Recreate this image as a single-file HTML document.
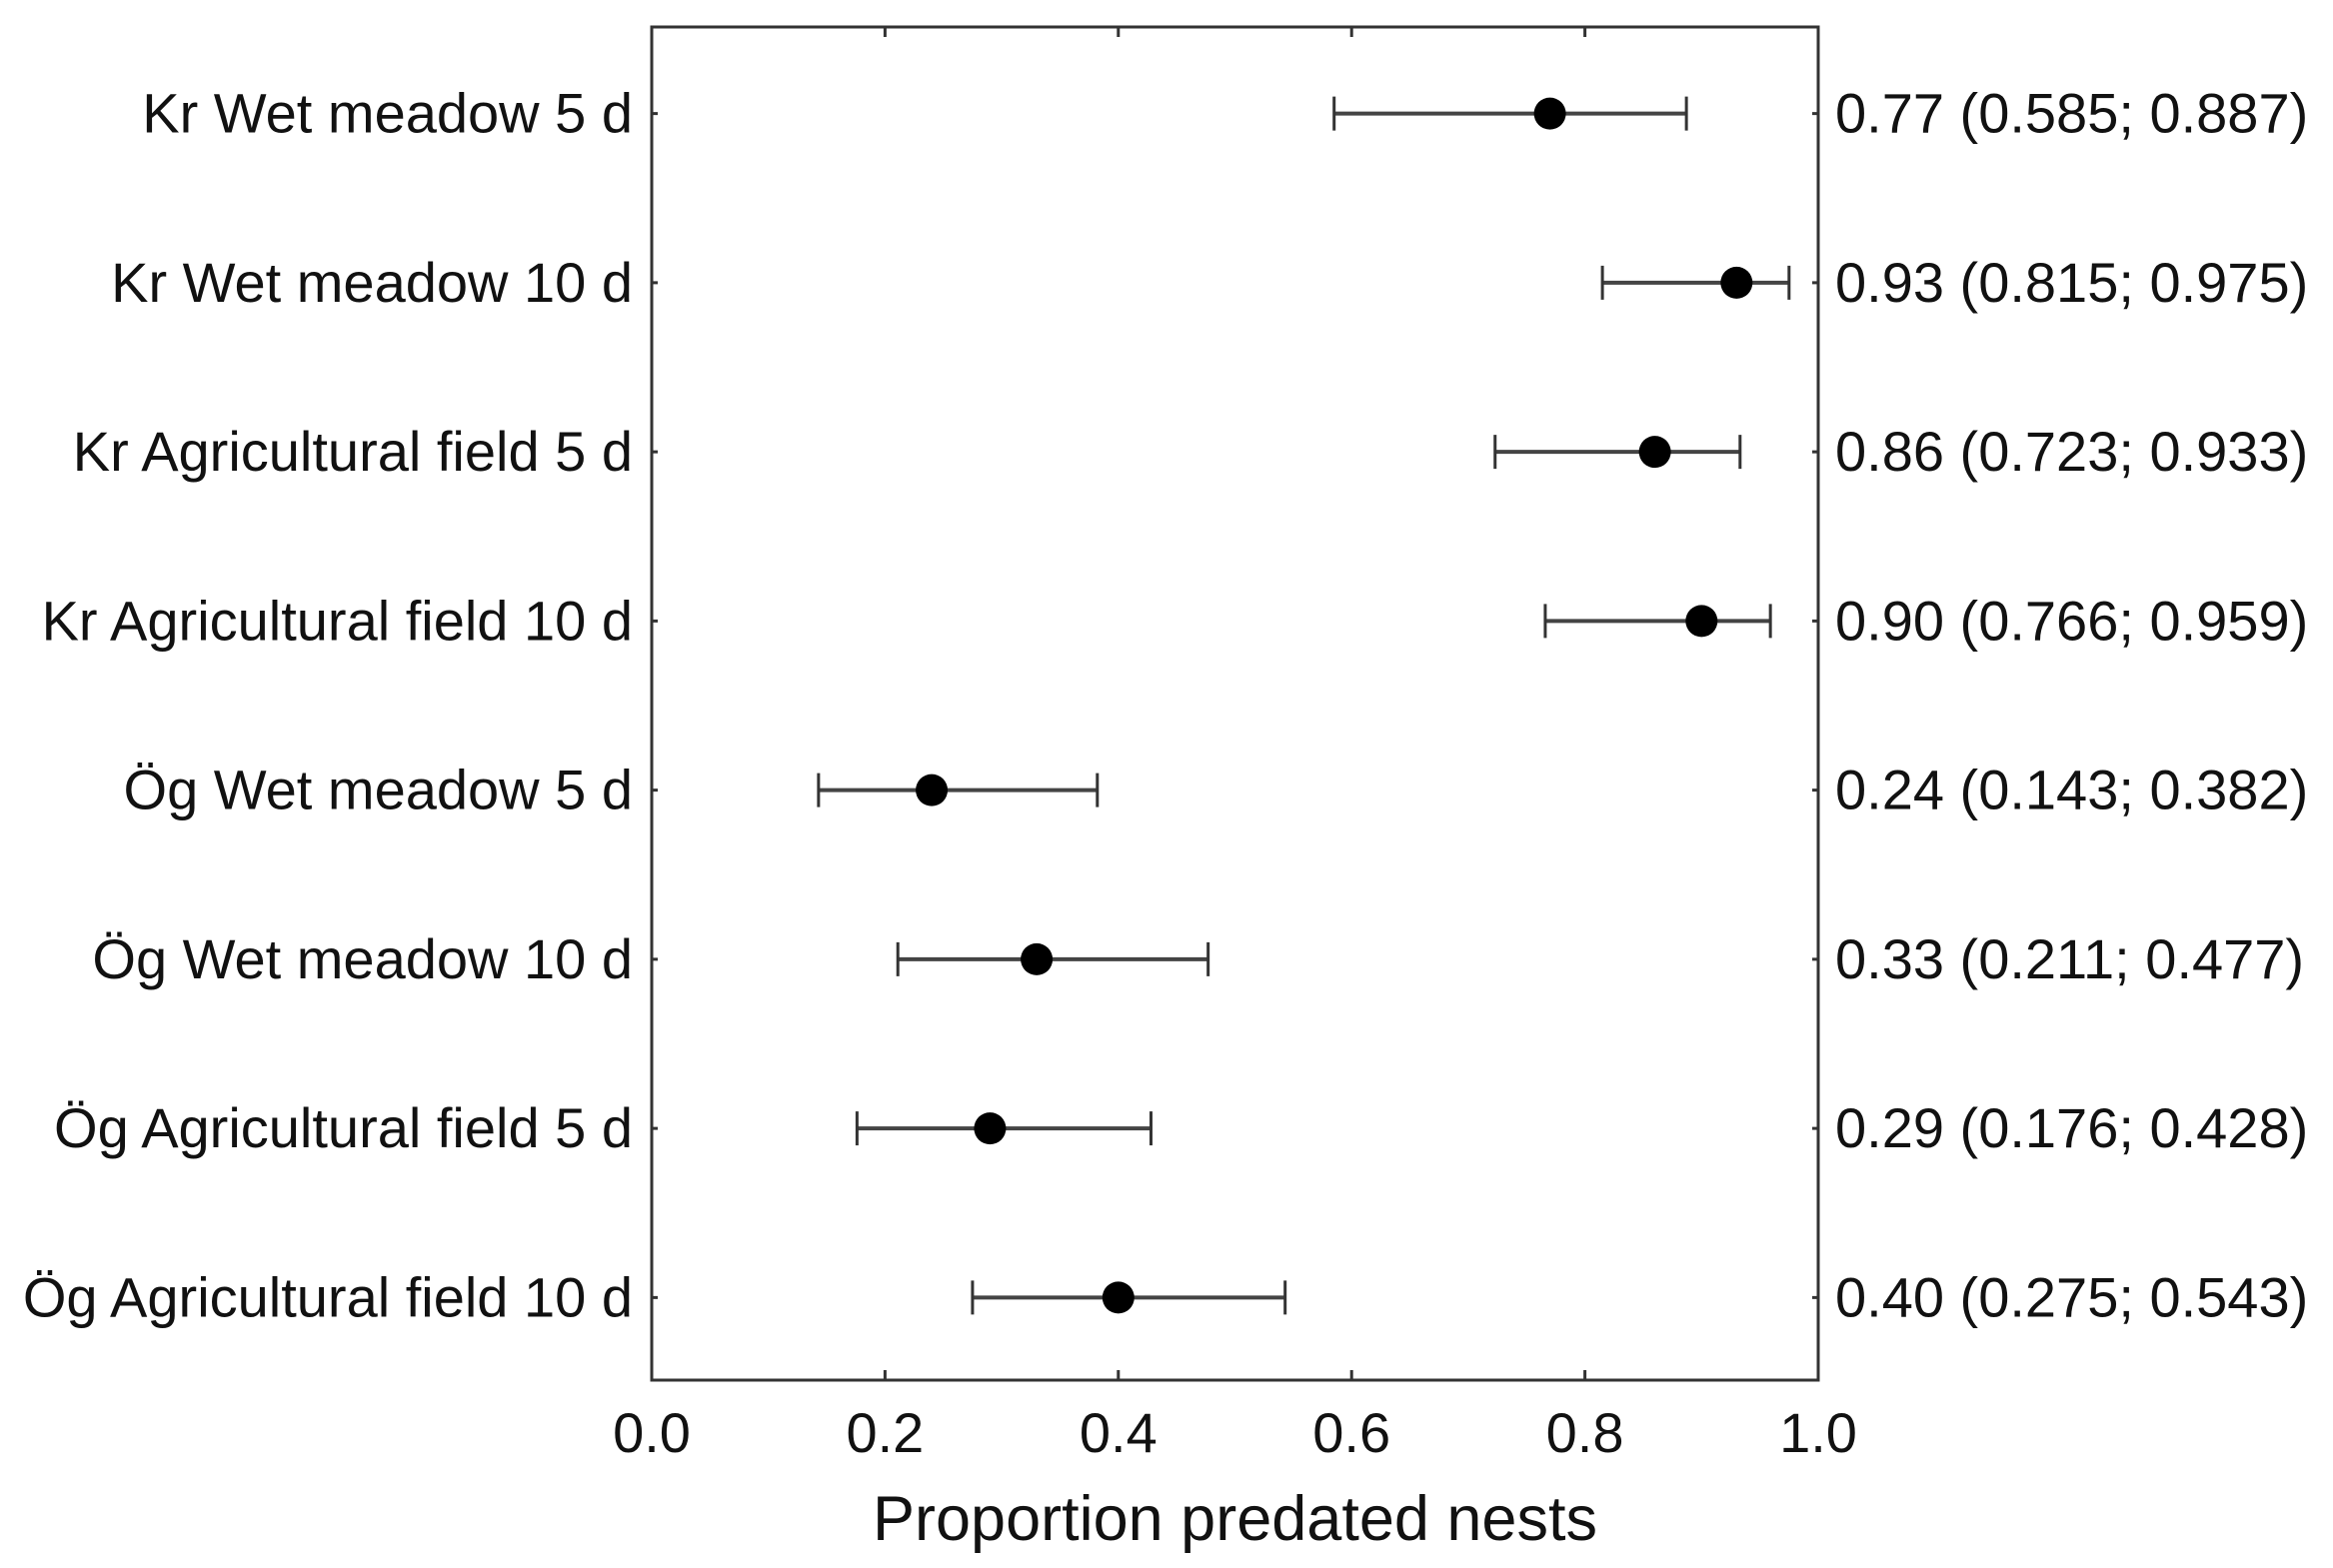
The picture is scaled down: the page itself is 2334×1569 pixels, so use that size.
<!DOCTYPE html>
<html><head><meta charset="utf-8">
<style>
html,body{margin:0;padding:0;background:#fff;}
svg{display:block;font-family:"Liberation Sans",Arial,sans-serif;}
</style></head>
<body>
<svg id="chart" width="2334" height="1569" viewBox="0 0 2334 1569" xmlns="http://www.w3.org/2000/svg"></svg>
<script>
const categories = ["Kr Wet meadow 5 d","Kr Wet meadow 10 d","Kr Agricultural field 5 d","Kr Agricultural field 10 d","Ög Wet meadow 5 d","Ög Wet meadow 10 d","Ög Agricultural field 5 d","Ög Agricultural field 10 d"];
const estimates = [0.77,0.93,0.86,0.90,0.24,0.33,0.29,0.40];
const lowerCI = [0.585,0.815,0.723,0.766,0.143,0.211,0.176,0.275];
const upperCI = [0.887,0.975,0.933,0.959,0.382,0.477,0.428,0.543];
const estLabels = ["0.77","0.93","0.86","0.90","0.24","0.33","0.29","0.40"];
const xTicks = [0,0.2,0.4,0.6,0.8,1.0];
const xTickLabels = ["0.0","0.2","0.4","0.6","0.8","1.0"];

const svg = document.getElementById('chart');
const NS = "http://www.w3.org/2000/svg";
const L=652, R=1819, T=27, B=1381;
const band=(B-T)/categories.length;
const xs=v=>L+v*(R-L);
const ys=i=>T+band*(i+0.5)+2;
function mk(tag,attrs,parent){const e=document.createElementNS(NS,tag);for(const k in attrs)e.setAttribute(k,attrs[k]);(parent||svg).appendChild(e);return e;}
const stroke="#333";

const frame=mk('rect',{x:L,y:T,width:R-L,height:B-T,fill:'none',stroke:stroke,'stroke-width':3});



xTicks.forEach((v,i)=>{
  const t1=mk('line',{x1:xs(v),x2:xs(v),y1:B,y2:B-10,stroke:stroke,'stroke-width':3});
  
  
  const t2=mk('line',{x1:xs(v),x2:xs(v),y1:T,y2:T+10,stroke:stroke,'stroke-width':3});
  
  
  const tl=mk('text',{x:xs(v),y:1453,'font-size':56,'text-anchor':'middle',fill:'#111'});
  tl.textContent=xTickLabels[i];
  
  
});
const xt=mk('text',{x:(L+R)/2,y:1541,'font-size':63,'text-anchor':'middle',fill:'#111'});
xt.textContent="Proportion predated nests";



categories.forEach((c,i)=>{
  const y=ys(i);
  const g=mk('g',{});
  
  
  mk('line',{x1:L,x2:L+6,y1:y,y2:y,stroke:stroke,'stroke-width':3},g);
  mk('line',{x1:R,x2:R-6,y1:y,y2:y,stroke:stroke,'stroke-width':3},g);
  const lab=mk('text',{x:0,y:0,'font-size':56,'text-anchor':'end',fill:'#111',transform:`translate(633,${y+19}) scale(1.0,1)`},g);
  lab.textContent=c;
  
  
  const eb=mk('line',{x1:xs(lowerCI[i]),x2:xs(upperCI[i]),y1:y,y2:y,stroke:'#444','stroke-width':4},g);
  
  
  [lowerCI[i],upperCI[i]].forEach(v=>{
    const cap=mk('line',{x1:xs(v),x2:xs(v),y1:y-17,y2:y+17,stroke:'#333','stroke-width':3},g);
    
    
  });
  const pt=mk('circle',{cx:xs(estimates[i]),cy:y,r:16,fill:'#000'},g);
  
  
  const rl=mk('text',{x:1836,y:y+19,'font-size':56,fill:'#111'},g);
  rl.textContent=`${estLabels[i]} (${lowerCI[i].toFixed(3)}; ${upperCI[i].toFixed(3)})`;
  
  
});
</script>
</body></html>
